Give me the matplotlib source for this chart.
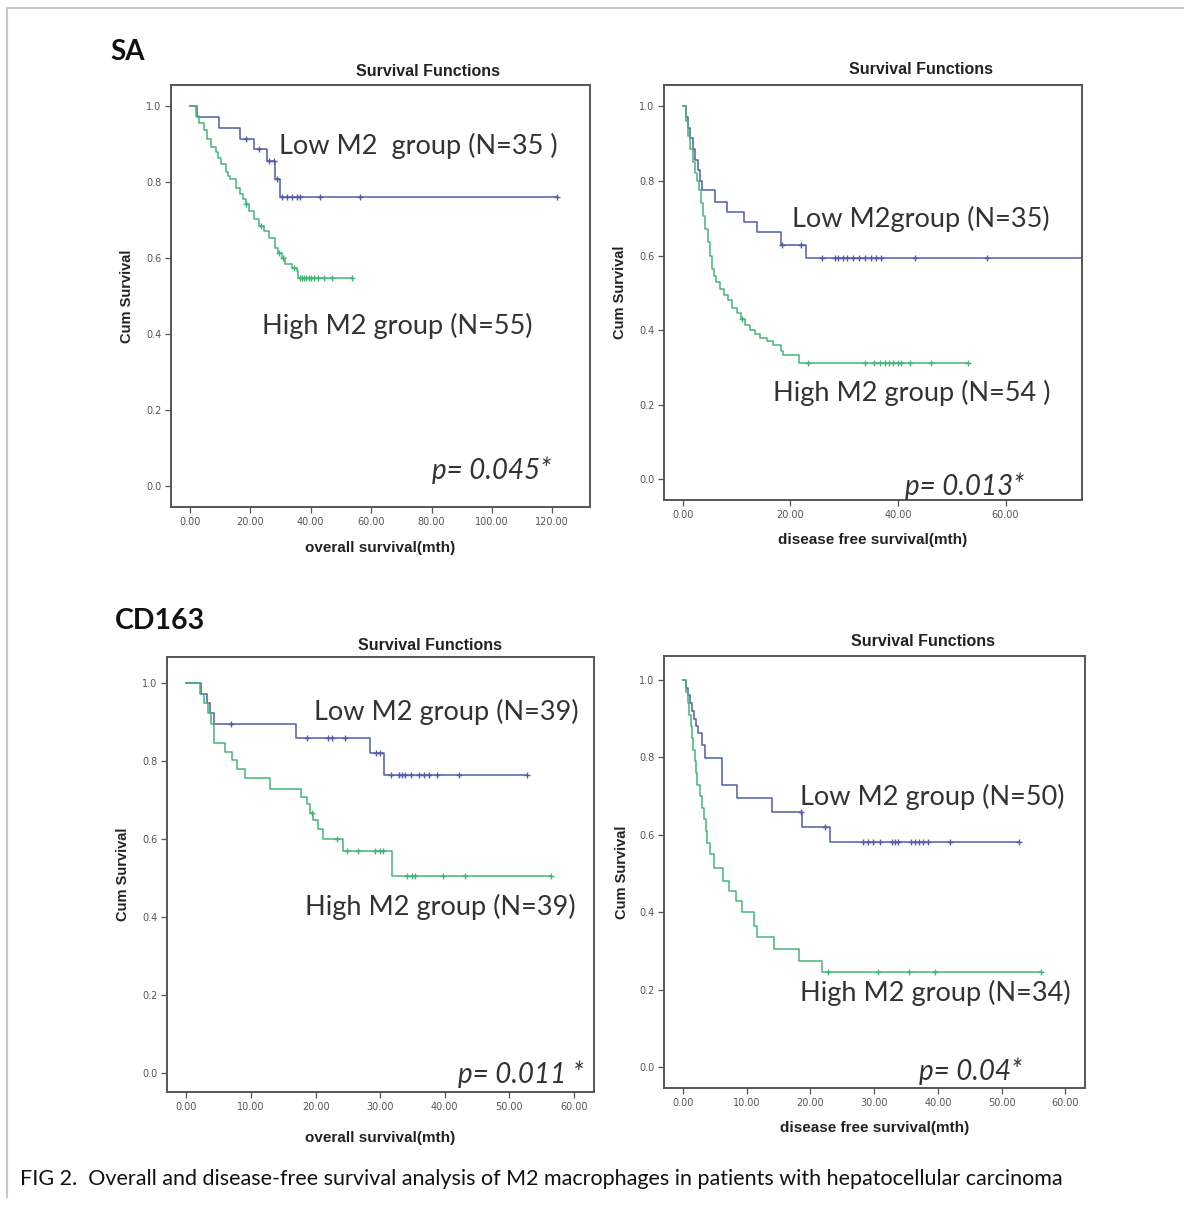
import numpy as np
import matplotlib.pyplot as plt
from matplotlib.lines import Line2D

W, H = 1184, 1205

# ---- data (time in months, cumulative survival) ----
# SA, overall survival
sa_os_low_t = [0, 2.4, 9.6, 16.7, 21.1, 25.5, 28.2, 29.9]
sa_os_low_s = [1.0, .971, .943, .914, .886, .855, .808, .761]
sa_os_low_c = [18.4, 22.7, 26.0, 27.7, 28.8, 30.4, 32.1, 33.7, 35.4, 36.5, 43.1, 56.3, 121.5]
sa_os_low_end = 121.5
sa_os_high_t = [0, 1.9, 3.0, 4.6, 5.7, 6.8, 8.5, 9.3, 10.1, 11.8, 12.6, 13.4, 15.1, 16.7,
                17.6, 18.4, 19.4, 21.1, 22.7, 24.4, 26.0, 28.2, 29.3, 30.4, 31.5, 33.7, 35.4, 35.9]
sa_os_high_s = [1.0, .974, .955, .937, .913, .893, .878, .862, .847, .825, .815, .807, .785, .768,
                .755, .741, .724, .702, .684, .671, .653, .627, .614, .601, .583, .574, .566, .548]
sa_os_high_c = [18.6, 23.4, 29.6, 30.8, 34.5, 36.3, 37.0, 37.8, 38.5, 39.3, 40.0, 41.0, 42.5, 44.5, 47.0, 53.6]
sa_os_high_end = 53.6

# SA, disease free survival
sa_dfs_low_t = [0, 0.6, 1.0, 1.4, 1.9, 2.3, 2.8, 3.2, 3.6, 6.0, 8.2, 11.3, 13.8, 18.2, 22.9]
sa_dfs_low_s = [1.0, .971, .943, .914, .886, .857, .829, .800, .775, .743, .717, .690, .663, .627, .593]
sa_dfs_low_c = [18.5, 22.0, 25.9, 28.2, 28.8, 29.7, 30.6, 31.6, 32.8, 33.8, 35.0, 35.9, 36.9, 43.1, 56.5]
sa_dfs_low_end = 80
sa_dfs_high_t = [0, 0.6, 1.0, 1.4, 1.8, 2.2, 2.6, 3.0, 3.4, 3.8, 4.2, 4.6, 5.0, 5.4, 5.8, 6.2,
                 7.0, 7.6, 8.4, 9.2, 10.0, 10.8, 11.6, 12.4, 13.4, 14.4, 15.6, 16.8, 18.2, 18.7, 21.6]
sa_dfs_high_s = [1.0, .96, .92, .885, .85, .82, .80, .775, .74, .705, .67, .635, .60, .565, .545, .53,
                 .51, .495, .48, .46, .445, .43, .415, .40, .39, .38, .37, .36, .345, .333, .312]
sa_dfs_high_c = [11.0, 23.2, 33.8, 35.6, 36.6, 37.5, 38.4, 39.1, 40.0, 40.6, 42.2, 46.2, 53.1]
sa_dfs_high_end = 53.1

# CD163, overall survival
cd_os_low_t = [0, 2.3, 3.2, 3.6, 4.3, 17.0, 28.5, 30.6]
cd_os_low_s = [1.0, .974, .949, .923, .897, .861, .821, .766]
cd_os_low_c = [6.9, 18.7, 22.0, 22.6, 24.6, 29.3, 30.0, 31.6, 32.9, 33.4, 33.9, 34.7,
               36.0, 36.8, 37.5, 38.8, 42.2, 52.8]
cd_os_low_end = 52.8
cd_os_high_t = [0, 2.1, 2.7, 3.4, 3.8, 4.2, 6.0, 7.0, 7.8, 9.0, 12.9, 17.8, 18.6, 19.1, 19.6,
                20.4, 21.2, 24.3, 31.8]
cd_os_high_s = [1.0, .974, .949, .923, .897, .846, .825, .802, .780, .757, .729, .708, .690,
                .668, .650, .627, .600, .569, .506]
cd_os_high_c = [19.4, 23.3, 24.8, 26.6, 29.2, 30.0, 30.5, 34.1, 34.9, 35.4, 39.8, 43.2, 56.4]
cd_os_high_end = 56.4

# CD163, disease free survival
cd_dfs_low_t = [0, 0.5, 0.8, 1.1, 1.4, 1.7, 2.0, 2.4, 3.0, 3.5, 6.1, 8.5, 14.0, 18.6, 23.0]
cd_dfs_low_s = [1.0, .98, .96, .94, .92, .90, .88, .863, .832, .798, .729, .694, .658, .620, .581]
cd_dfs_low_c = [18.5, 22.2, 28.3, 29.0, 29.8, 30.9, 32.8, 33.3, 33.7, 35.8, 36.4, 37.0, 37.7,
                38.5, 41.9, 52.7]
cd_dfs_low_end = 52.7
cd_dfs_high_t = [0, 0.5, 0.8, 1.0, 1.2, 1.4, 1.6, 1.8, 2.0, 2.2, 2.6, 3.0, 3.3, 3.6, 3.8, 4.3,
                 4.8, 6.2, 7.2, 8.3, 9.3, 11.1, 11.6, 14.2, 18.2, 21.8]
cd_dfs_high_s = [1.0, .97, .94, .91, .88, .85, .82, .79, .76, .73, .70, .67, .64, .61, .58, .55,
                 .515, .48, .455, .43, .40, .365, .335, .305, .275, .245]
cd_dfs_high_c = [22.7, 30.6, 35.4, 39.6, 56.2]
cd_dfs_high_end = 56.2

p_values = ["p= 0.045*", "p= 0.013*", "p= 0.011 *", "p= 0.04*"]
low_labels = ["Low M2  group (N=35 )", "Low M2group (N=35)", "Low M2 group (N=39)", "Low M2 group (N=50)"]
high_labels = ["High M2 group (N=55)", "High M2 group (N=54 )", "High M2 group (N=39)", "High M2 group (N=34)"]
x_labels = ["overall survival(mth)", "disease free survival(mth)",
            "overall survival(mth)", "disease free survival(mth)"]

BLUE = "#525ca6"
GREEN = "#45b577"
FRAME = "#555555"
TXT = "#333333"


def fx(px):
    return px / W


def fy(py):
    return 1 - py / H


def km(ax, t, s, cens, end, color):
    tt = list(t) + [end]
    ss = list(s) + [s[-1]]
    ax.step(tt, ss, where="post", color=color, lw=1.1)
    idx = np.searchsorted(t, cens, side="right") - 1
    ax.plot(cens, np.array(s)[idx], ls="none", marker="+", ms=5, mew=1.0, color=color)


fig = plt.figure(figsize=(W / 100, H / 100), dpi=100)

# frame boxes in pixel coordinates: left, top, right, bottom
panels = [
    dict(box=(171, 85, 590, 507), xlim=(-6.3, 132.5), xt=np.arange(0, 121, 20), ylim=(-0.055, 1.055),
         data=(sa_os_low_t, sa_os_low_s, sa_os_low_c, sa_os_low_end,
               sa_os_high_t, sa_os_high_s, sa_os_high_c, sa_os_high_end),
         low=(418, 146), high=(397, 326), p=(492, 470), title=(428, 71), xl=548, yl=127),
    dict(box=(664, 85, 1082, 500), xlim=(-3.5, 74.2), xt=np.arange(0, 61, 20), ylim=(-0.055, 1.057),
         data=(sa_dfs_low_t, sa_dfs_low_s, sa_dfs_low_c, sa_dfs_low_end,
               sa_dfs_high_t, sa_dfs_high_s, sa_dfs_high_c, sa_dfs_high_end),
         low=(921, 219), high=(912, 393), p=(965, 486), title=(921, 70), xl=540, yl=620),
    dict(box=(167, 657, 594, 1092), xlim=(-3.0, 63.1), xt=np.arange(0, 61, 10), ylim=(-0.05, 1.068),
         data=(cd_os_low_t, cd_os_low_s, cd_os_low_c, cd_os_low_end,
               cd_os_high_t, cd_os_high_s, cd_os_high_c, cd_os_high_end),
         low=(446, 712), high=(440, 907), p=(521, 1074), title=(430, 645), xl=1138, yl=123),
    dict(box=(664, 656, 1085, 1088), xlim=(-3.0, 63.1), xt=np.arange(0, 61, 10), ylim=(-0.054, 1.062),
         data=(cd_dfs_low_t, cd_dfs_low_s, cd_dfs_low_c, cd_dfs_low_end,
               cd_dfs_high_t, cd_dfs_high_s, cd_dfs_high_c, cd_dfs_high_end),
         low=(932, 797), high=(935, 993), p=(971, 1071), title=(923, 642), xl=1128, yl=622),
]

for i, pnl in enumerate(panels):
    l, t, r, b = pnl["box"]
    ax = fig.add_axes([fx(l), fy(b), (r - l) / W, (b - t) / H])
    lt, ls_, lc, le, ht, hs, hc, he = pnl["data"]
    km(ax, lt, ls_, lc, le, BLUE)
    km(ax, ht, hs, hc, he, GREEN)
    ax.set_xlim(*pnl["xlim"])
    ax.set_ylim(*pnl["ylim"])
    ax.set_xticks(pnl["xt"])
    ax.set_xticklabels([f"{v:.2f}" for v in pnl["xt"]])
    yt = [0, 0.2, 0.4, 0.6, 0.8, 1.0]
    ax.set_yticks(yt)
    ax.set_yticklabels([f"{v:.1f}" for v in yt])
    ax.tick_params(direction="out", length=4, width=0.9, color=FRAME, labelsize=7,
                   labelcolor="#555555", pad=3)
    for sp in ax.spines.values():
        sp.set_color(FRAME)
        sp.set_linewidth(1.4)
    fig.text(fx(pnl["yl"]), fy((t + b) / 2), "Cum Survival", rotation=90, ha="center", va="center",
             fontsize=10.5, fontweight="bold", color="#222222", family="Liberation Sans")
    fig.text(fx((l + r) / 2), fy(pnl["xl"]), x_labels[i], ha="center", va="center",
             fontsize=11, fontweight="bold", color="#222222", family="Liberation Sans")
    fig.text(fx(pnl["title"][0]), fy(pnl["title"][1]), "Survival Functions", ha="center",
             va="center", fontsize=11.5, fontweight="bold", color="#222222", family="Liberation Sans")
    fig.text(fx(pnl["low"][0]), fy(pnl["low"][1]), low_labels[i], ha="center", va="center",
             fontsize=19.5, color=TXT, family="Lato")
    fig.text(fx(pnl["high"][0]), fy(pnl["high"][1]), high_labels[i], ha="center", va="center",
             fontsize=19.5, color=TXT, family="Lato")
    fig.text(fx(pnl["p"][0]), fy(pnl["p"][1]), p_values[i], ha="center", va="center",
             fontsize=20, style="italic", color=TXT, family="Lato")

fig.text(fx(110), fy(52), "SA", ha="left", va="center", fontsize=20, fontweight="bold",
         color="#111111", family="Lato")
fig.text(fx(115), fy(621), "CD163", ha="left", va="center", fontsize=20.5, fontweight="bold",
         color="#111111", family="Lato")

fig.text(fx(20), fy(1179), "FIG 2.  Overall and disease-free survival analysis of M2 macrophages "
         "in patients with hepatocellular carcinoma", ha="left", va="center", fontsize=15.5,
         color="#111111", family="Lato")

# outer light border
fig.add_artist(Line2D([fx(7), fx(7), fx(1184)], [fy(1197), fy(8), fy(8)], color="#c8c8c8", lw=1.5))

fig.savefig("out.png", dpi=100)
